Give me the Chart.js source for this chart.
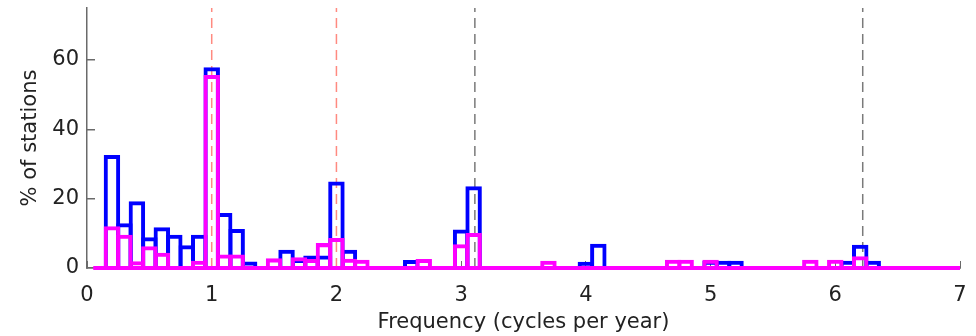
<!DOCTYPE html>
<html>
<head>
<meta charset="utf-8">
<script src="https://cdn.jsdelivr.net/npm/chart.js@4/dist/chart.umd.min.js"></script>
<style>
  html, body { margin: 0; padding: 0; background: #fff; }
  #wrap { width: 976px; height: 336px; }
</style>
</head>
<body>
<div id="wrap"><canvas id="c" width="976" height="336"></canvas></div>
<script>
// Bin centres (cycles per year), bin width 0.1
const binCenters = [
  0.1,0.2,0.3,0.4,0.5,0.6,0.7,0.8,0.9,1.0,
  1.1,1.2,1.3,1.4,1.5,1.6,1.7,1.8,1.9,2.0,
  2.1,2.2,2.3,2.4,2.5,2.6,2.7,2.8,2.9,3.0,
  3.1,3.2,3.3,3.4,3.5,3.6,3.7,3.8,3.9,4.0,
  4.1,4.2,4.3,4.4,4.5,4.6,4.7,4.8,4.9,5.0,
  5.1,5.2,5.3,5.4,5.5,5.6,5.7,5.8,5.9,6.0,
  6.1,6.2,6.3,6.4,6.5,6.6,6.7,6.8,6.9,7.0
];
// % of stations (blue series)
const blueValues = [
  0,32,12.3,18.7,8.3,11.2,9,6,9,57.3,
  15.3,10.7,1.3,0,0,4.7,2,3,3,24.4,
  4.7,0,0,0,0,1.7,0,0,0,10.5,
  23,0,0,0,0,0,0,0,0,1.2,
  6.4,0,0,0,0,0,0,0,0,1.5,
  1.5,1.5,0,0,0,0,0,0,0,0,
  1.5,6.1,1.5,0,0,0,0,0,0,0
];
// % of stations (magenta series)
const magentaValues = [
  0,11.5,9,1.4,5.7,3.8,0,0,1.5,55.1,
  3.3,3.3,0,0,2.2,0,2.5,2,6.6,8.1,
  2.1,1.8,0,0,0,0,2,0,0,6.3,
  9.5,0,0,0,0,0,1.5,0,0,0,
  0,0,0,0,0,0,1.8,1.8,0,1.8,
  0,0,0,0,0,0,0,1.8,0,1.8,
  0,2.8,0,0,0,0,0,0,0,0
];
// reference frequencies (dashed lines)
const redLines = [1, 2];
const grayLines = [3.11, 6.22];
const baselineRange = [0.05, 7.0];
const xTicks = [0,1,2,3,4,5,6,7];
const yTicks = [0,20,40,60];
const xRange = [0, 7];
const yRange = [0, 75];

const toPts = (vals) => binCenters.map((x, i) => ({x, y: vals[i]}));
const vLine = (x) => [{x, y: yRange[0]}, {x, y: yRange[1]}];

const FONT = "'DejaVu Sans', Arial, Helvetica, sans-serif";
const FS = 21;
const AXIS = '#6a6a6a';
const BW = 4;

// outline centred on the bar edges: hairline border inflated by half the stroke
const barStyle = {
  type: 'bar', backgroundColor: 'rgba(0,0,0,0)', borderWidth: 0.01,
  inflateAmount: BW / 2, borderSkipped: 'start',
  grouped: false, barPercentage: 1, categoryPercentage: 1
};

const datasets = [];
redLines.forEach(x => datasets.push({
  type: 'line', data: vLine(x), borderColor: '#ff8a80', borderWidth: 1.5,
  borderDash: [10, 6], pointRadius: 0, order: 5
}));
grayLines.forEach(x => datasets.push({
  type: 'line', data: vLine(x), borderColor: '#7a7a7a', borderWidth: 1.5,
  borderDash: [10, 6], pointRadius: 0, order: 5
}));
datasets.push(Object.assign({}, barStyle, {
  data: toPts(blueValues), borderColor: '#0000ff', order: 3
}));
datasets.push(Object.assign({}, barStyle, {
  data: toPts(magentaValues), borderColor: '#ff00ff', order: 1
}));
datasets.push({
  type: 'line', data: baselineRange.map(x => ({x, y: 0})), borderColor: '#ff00ff',
  borderWidth: BW, pointRadius: 0, clip: false, order: 0
});

new Chart(document.getElementById('c'), {
  type: 'bar',
  data: { datasets },
  options: {
    responsive: false,
    animation: false,
    devicePixelRatio: 1,
    layout: { padding: { top: 8, right: 16, left: 0, bottom: 0 } },
    plugins: { legend: { display: false }, tooltip: { enabled: false } },
    scales: {
      x: {
        type: 'linear', min: xRange[0], max: xRange[1], offset: false,
        afterBuildTicks: s => { s.ticks = xTicks.map(v => ({value: v})); },
        afterFit: s => { s.height = 68; s.paddingLeft = 0; s.paddingRight = 0; },
        grid: { drawOnChartArea: false, offset: false, tickLength: -7, color: AXIS, lineWidth: 1 },
        border: { display: true, color: AXIS, width: 1.5 },
        ticks: { color: '#222', font: { family: FONT, size: FS }, padding: 22, maxRotation: 0 },
        title: { display: true, text: 'Frequency (cycles per year)', color: '#222',
                 font: { family: FONT, size: FS }, padding: { top: 0, bottom: 1 } }
      },
      y: {
        type: 'linear', min: yRange[0], max: yRange[1],
        afterBuildTicks: s => { s.ticks = yTicks.map(v => ({value: v})); },
        afterFit: s => { s.width = 87; s.paddingTop = 0; s.paddingBottom = 0; },
        grid: { drawOnChartArea: false, tickLength: -8, color: AXIS, lineWidth: 1.5 },
        border: { display: true, color: AXIS, width: 1.5 },
        ticks: { color: '#222', font: { family: FONT, size: FS }, padding: 16 },
        title: { display: true, text: '% of stations', color: '#222',
                 font: { family: FONT, size: FS }, padding: { top: 18, bottom: 0 } }
      }
    }
  }
});
</script>
</body>
</html>
